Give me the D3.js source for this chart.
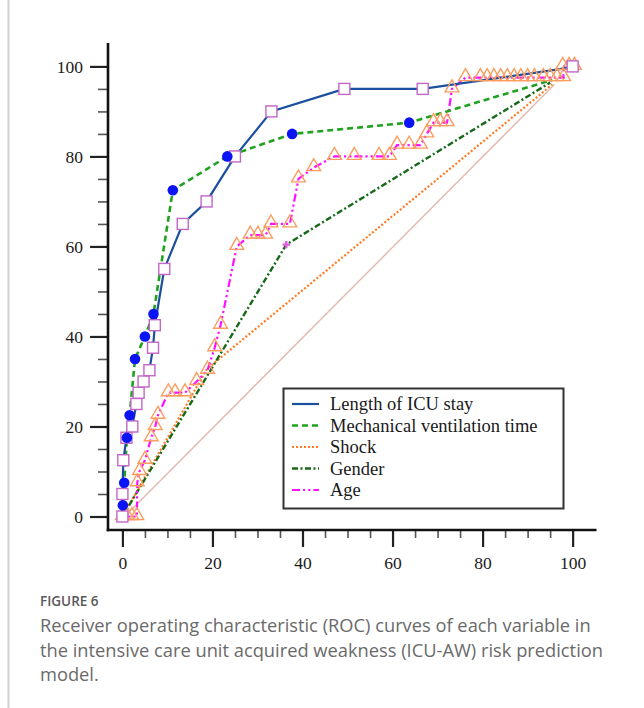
<!DOCTYPE html>
<html><head><meta charset="utf-8">
<script src="https://cdn.jsdelivr.net/npm/d3@7"></script>
<style>body{margin:0;background:#fff;}svg{display:block;}</style>
</head><body>
<script>
// ---- data (x = 1-specificity %, y = sensitivity %) ----
const icuStayX = [0,0,0.2,0.9,2.2,3.1,3.6,4.7,6,6.8,7.2,9.3,13.4,18.7,25,33.1,49.3,66.7,97.2,100];
const icuStayY = [0,5,12.5,17.5,20,25,27.5,30,32.5,37.5,42.5,55,65,70,80,90,95,95,99.4,100];
const icuMarkerIdx = [0,1,2,3,4,5,6,7,8,9,10,11,12,13,14,15,16,17,19];
const mechX = [0,0.1,0.4,1,1.6,2.8,5,6.9,11.2,23.3,37.7,63.7,95.5];
const mechY = [0,2.5,7.5,17.5,22.5,35,40,45,72.5,80,85,87.5,97];
const shockX = [0,18.8,95.5];
const shockY = [0,32.8,96];
const genderX = [0,36.4,95];
const genderY = [0,60.4,96.4];
const ageX = [0,1.1,2.1,3.2,3.3,3.8,5,6.4,7.3,7.9,10.2,11.7,13.9,16.5,18.9,20.5,21.8,25.4,28.4,30.1,31.8,33,37.2,39.1,42.5,47.1,51.5,57,59.3,61,63.7,66.2,67.6,69.1,70.6,72.1,73.2,76.2,79.5,81,82.5,84,85.5,87,88.5,90,91.5,93.5,95,96.5,98,97.8,99.2,100.4];
const ageY = [0,0,0,0,7.5,10,12.5,17.5,20,22.5,27.5,27.5,27.5,30,32.5,37.5,42.5,60,62.5,62.5,62.5,65,65,75,77.5,80,80,80,80,82.5,82.5,82.5,85,87.5,87.5,87.5,95,97.5,97.5,97.5,97.5,97.5,97.5,97.5,97.5,97.5,97.5,97.5,97.5,97.5,97.5,100,100,100];
const refX = [2,96];
const refY = [1.5,96];
const majorTicks = [0,20,40,60,80,100];
const minorTicks = [5,10,15,25,30,35,45,50,55,65,70,75,85,90,95];
const legendLabels = ["Length of ICU stay","Mechanical ventilation time","Shock","Gender","Age"];
const captionTitle = "FIGURE 6";
const captionLines = ["Receiver operating characteristic (ROC) curves of each variable in",
  "the intensive care unit acquired weakness (ICU-AW) risk prediction",
  "model."];

// ---- drawing ----
const W = 644, H = 708;
const svg = d3.select("body").append("svg").attr("width", W).attr("height", H);
svg.append("rect").attr("width", W).attr("height", H).attr("fill", "#fff");
svg.append("line").attr("x1", 8.5).attr("x2", 8.5).attr("y1", 0).attr("y2", H)
  .attr("stroke", "#d0d0d0").attr("stroke-width", 2);

const x = d3.scaleLinear().domain([-3.2, 105.3]).range([108, 596.5]);
const y = d3.scaleLinear().domain([-3, 105.2]).range([530, 43]);
const serif = "'Liberation Serif','Times New Roman',serif";

// axes
const gY = svg.append("g").attr("transform", `translate(${x(-3.2)},0)`);
gY.call(d3.axisLeft(y).tickValues(majorTicks).tickSize(18).tickPadding(7).tickFormat(d3.format("d")));
const gYm = svg.append("g").attr("transform", `translate(${x(-3.2)},0)`);
gYm.call(d3.axisLeft(y).tickValues(minorTicks).tickSize(10).tickFormat(""));
const gX = svg.append("g").attr("transform", `translate(0,${y(-3)})`);
gX.call(d3.axisBottom(x).tickValues(majorTicks).tickSize(17).tickPadding(10).tickFormat(d3.format("d")));
const gXm = svg.append("g").attr("transform", `translate(0,${y(-3)})`);
gXm.call(d3.axisBottom(x).tickValues(minorTicks).tickSize(8).tickFormat(""));
[gY, gYm, gX, gXm].forEach(g => g.select(".domain").remove());
[gY, gX].forEach(g => {
  g.selectAll(".tick line").attr("stroke", "#222").attr("stroke-width", 2.2);
  g.selectAll(".tick text").attr("font-family", serif).attr("font-size", 17.5).attr("fill", "#1a1a1a");
});
[gYm, gXm].forEach(g => g.selectAll(".tick line").attr("stroke", "#555").attr("stroke-width", 1.6));
svg.append("line").attr("x1", x(-3.2)).attr("x2", x(-3.2)).attr("y1", y(105.2)).attr("y2", y(-3) + 1.3)
  .attr("stroke", "#111").attr("stroke-width", 2.6);
svg.append("line").attr("x1", x(-3.2) - 1.3).attr("x2", x(105.3)).attr("y1", y(-3)).attr("y2", y(-3))
  .attr("stroke", "#111").attr("stroke-width", 2.6);

const line = d3.line().x(d => x(d[0])).y(d => y(d[1]));
const zip = (a, b) => a.map((v, i) => [v, b[i]]);
const plot = svg.append("g");

// reference diagonal
plot.append("path").attr("d", line(zip(refX, refY))).attr("fill", "none")
  .attr("stroke", "#e3b3ab").attr("stroke-width", 1.3);

const styles = [
  {color: "#1c4f9e", dash: null, w: 2.2},
  {color: "#1fa21f", dash: "6,4", w: 2.6},
  {color: "#ff7a22", dash: "2,2", w: 2.2},
  {color: "#17691a", dash: "6,2.5,2,2.5", w: 2.4},
  {color: "#ff10ff", dash: "8,3,2.2,3,2.2,3", w: 2.2}
];
const series = [zip(icuStayX, icuStayY), zip(mechX, mechY), zip(shockX, shockY), zip(genderX, genderY), zip(ageX, ageY)];
const order = [2, 3, 4, 1, 0];
order.forEach(i => {
  plot.append("path").attr("d", line(series[i])).attr("fill", "none")
    .attr("stroke", styles[i].color).attr("stroke-width", styles[i].w)
    .attr("stroke-dasharray", styles[i].dash);
});

// age triangles
const tri = d3.symbol().type(d3.symbolTriangle).size(82);
plot.selectAll(".tri").data(series[4]).join("path")
  .attr("transform", d => `translate(${x(d[0])},${y(d[1]) - 1})`)
  .attr("d", tri).attr("fill", "none").attr("stroke", "#fa9d5f").attr("stroke-width", 1.4);
// gender marker
plot.append("path").attr("transform", `translate(${x(genderX[1])},${y(genderY[1])})`)
  .attr("d", d3.symbol().type(d3.symbolCross).size(30)).attr("fill", "#e060e0");
// icu squares
plot.selectAll(".sq").data(icuMarkerIdx.map(i => series[0][i])).join("rect")
  .attr("x", d => x(d[0]) - 5.5).attr("y", d => y(d[1]) - 5.5)
  .attr("width", 11).attr("height", 11).attr("fill", "#fff")
  .attr("stroke", "#c266c8").attr("stroke-width", 1.4);
// mech circles
plot.selectAll(".ci").data(series[1].slice(1, -1)).join("circle")
  .attr("cx", d => x(d[0])).attr("cy", d => y(d[1])).attr("r", 5.3).attr("fill", "#0a14f5");

// legend
const lg = svg.append("g");
lg.append("rect").attr("x", 283.5).attr("y", 388.5).attr("width", 280).attr("height", 120)
  .attr("fill", "#fff").attr("stroke", "#333").attr("stroke-width", 2);
legendLabels.forEach((lab, i) => {
  const yy = 404 + i * 21.5;
  lg.append("line").attr("x1", 292).attr("x2", 319).attr("y1", yy).attr("y2", yy)
    .attr("stroke", styles[i].color).attr("stroke-width", styles[i].w)
    .attr("stroke-dasharray", styles[i].dash);
  lg.append("text").attr("x", 330).attr("y", yy + 6).text(lab)
    .attr("font-family", serif).attr("font-size", 18.5).attr("fill", "#1a1a1a");
});

// caption
svg.append("text").attr("x", 40).attr("y", 606).text(captionTitle)
  .attr("font-family", "'Open Sans',sans-serif").attr("font-size", 13.5).attr("font-weight", 600).attr("fill", "#595959");
captionLines.forEach((t, i) => {
  svg.append("text").attr("x", 40).attr("y", 632 + i * 24.5).text(t)
    .attr("font-family", "'Open Sans',sans-serif").attr("font-size", 18.3).attr("fill", "#6a6a6a");
});
</script>
</body></html>
